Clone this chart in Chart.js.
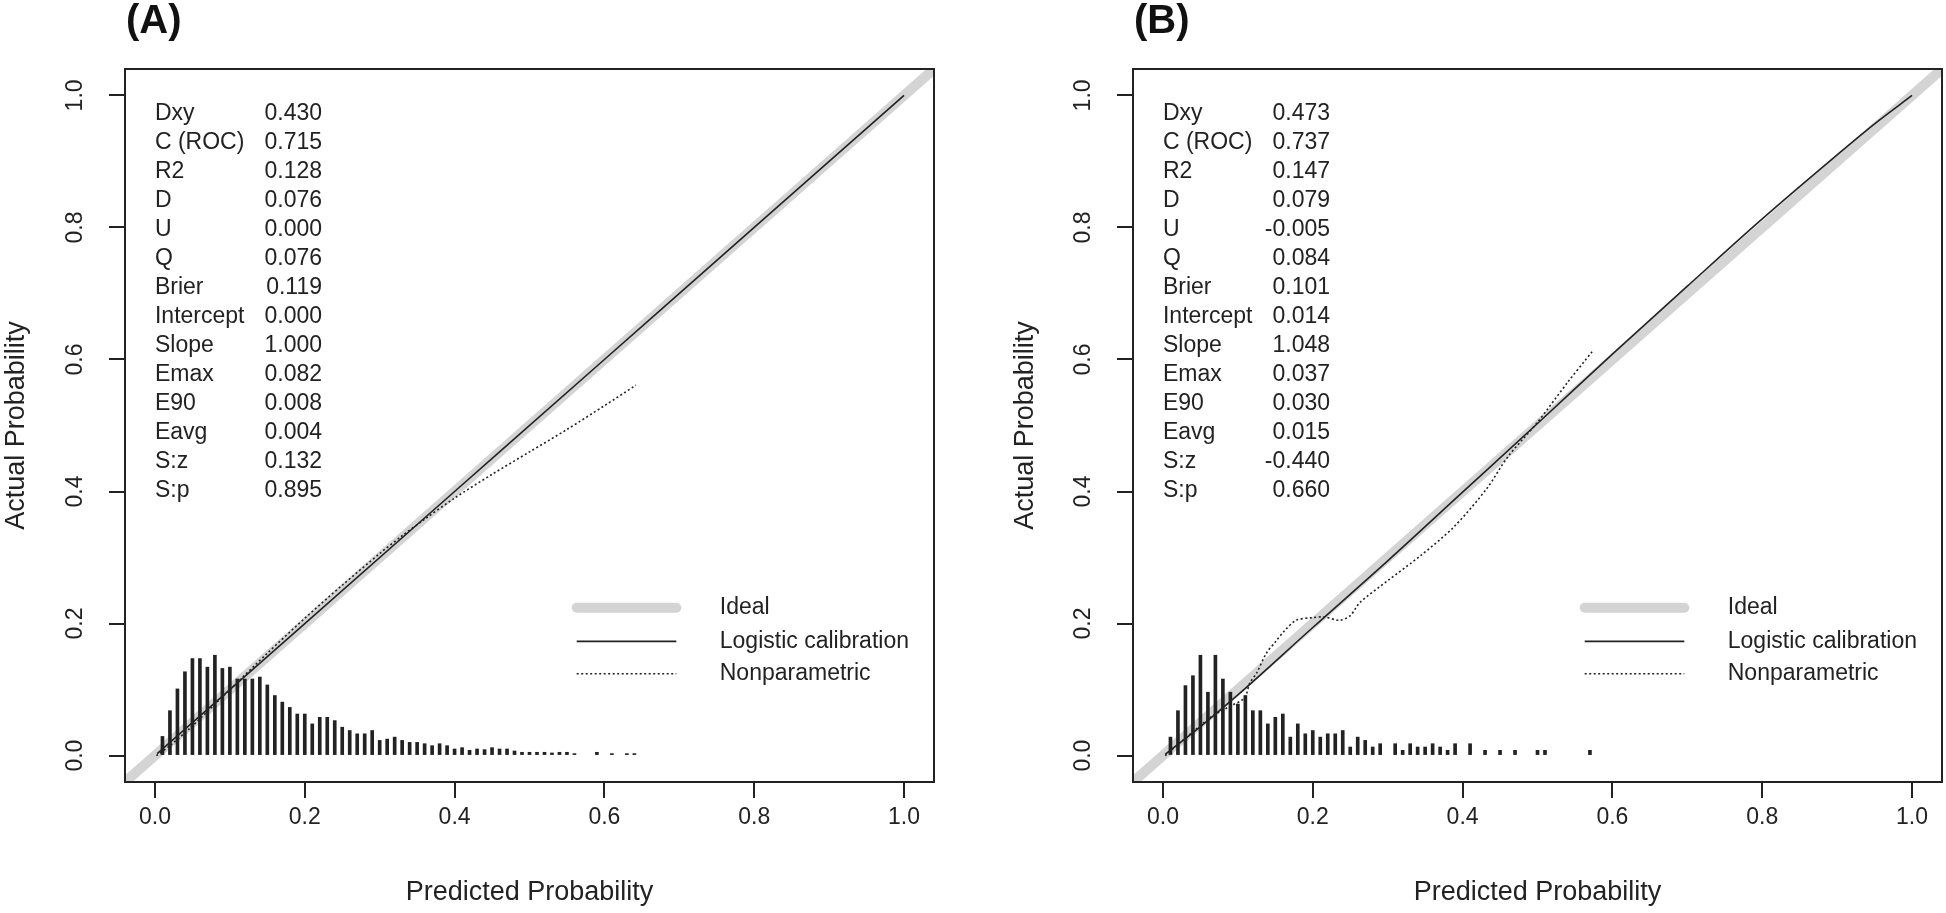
<!DOCTYPE html>
<html>
<head>
<meta charset="utf-8">
<script src="https://cdn.jsdelivr.net/npm/chart.js@4.4.1/dist/chart.umd.min.js"></script>
<style>
  html, body { margin: 0; padding: 0; background: #fff; }
  #wrap { position: relative; width: 1946px; height: 913px; overflow: hidden; }
  canvas { position: absolute; top: 0; }
  #chartA { left: 0; }
  #chartB { left: 973px; }
</style>
</head>
<body>
<div id="wrap">
  <canvas id="chartA" width="973" height="913"></canvas>
  <canvas id="chartB" width="973" height="913"></canvas>
</div>
<script>
// --- data ---
const axisTicks = [0, 0.2, 0.4, 0.6, 0.8, 1.0];
const axisRange = [-0.04, 1.04];

const statNames = ['Dxy', 'C (ROC)', 'R2', 'D', 'U', 'Q', 'Brier', 'Intercept', 'Slope', 'Emax', 'E90', 'Eavg', 'S:z', 'S:p'];
const statsA = ['0.430', '0.715', '0.128', '0.076', '0.000', '0.076', '0.119', '0.000', '1.000', '0.082', '0.008', '0.004', '0.132', '0.895'];
const statsB = ['0.473', '0.737', '0.147', '0.079', '-0.005', '0.084', '0.101', '0.014', '1.048', '0.037', '0.030', '0.015', '-0.440', '0.660'];

const legendLabels = ['Ideal', 'Logistic calibration', 'Nonparametric'];

const idealX = [-0.04, 1.04];
const idealY = [-0.04, 1.04];

// panel A
const logisticXA = [0.003, 0.2, 0.4, 0.6, 0.8, 1.0];
const logisticYA = [0.003, 0.2, 0.4, 0.6, 0.8, 1.0];
const nonparXA = [0.002, 0.02, 0.05, 0.1, 0.15, 0.2, 0.25, 0.3, 0.33, 0.36, 0.4, 0.45, 0.5, 0.55, 0.6, 0.642];
const nonparYA = [0.0, 0.015, 0.045, 0.1, 0.155, 0.208, 0.258, 0.306, 0.333, 0.358, 0.39, 0.426, 0.46, 0.494, 0.53, 0.561];
const histXA = [0.01, 0.02, 0.03, 0.04, 0.05, 0.06, 0.07, 0.08, 0.09, 0.10,
  0.11, 0.12, 0.13, 0.14, 0.15, 0.16, 0.17, 0.18, 0.19, 0.20,
  0.21, 0.22, 0.23, 0.24, 0.25, 0.26, 0.27, 0.28, 0.29, 0.30,
  0.31, 0.32, 0.33, 0.34, 0.35, 0.36, 0.37, 0.38, 0.39, 0.40,
  0.41, 0.42, 0.43, 0.44, 0.45, 0.46, 0.47, 0.48, 0.49, 0.50,
  0.51, 0.52, 0.53, 0.54, 0.55, 0.56, 0.59, 0.61, 0.63, 0.64];
const histYA = [0.029, 0.068, 0.101, 0.127, 0.147, 0.147, 0.134, 0.152, 0.132, 0.134,
  0.116, 0.116, 0.116, 0.119, 0.107, 0.091, 0.081, 0.073, 0.063, 0.063,
  0.048, 0.058, 0.058, 0.053, 0.043, 0.038, 0.033, 0.033, 0.038, 0.023,
  0.025, 0.028, 0.023, 0.020, 0.020, 0.018, 0.015, 0.018, 0.015, 0.010,
  0.012, 0.008, 0.010, 0.009, 0.012, 0.010, 0.010, 0.007, 0.005, 0.005,
  0.005, 0.005, 0.004, 0.005, 0.005, 0.003, 0.005, 0.003, 0.003, 0.003];

// panel B
const logisticXB = [0.003, 0.05, 0.1, 0.2, 0.3, 0.4, 0.5, 0.6, 0.7, 0.8, 0.9, 0.95, 1.0];
const logisticYB = [0.002, 0.044, 0.092, 0.194, 0.295, 0.399, 0.503, 0.608, 0.711, 0.813, 0.91, 0.957, 1.0];
const nonparXB = [0.003, 0.02, 0.04, 0.06, 0.075, 0.092, 0.109, 0.116, 0.125, 0.138, 0.15, 0.163, 0.178, 0.2, 0.215,
  0.236, 0.25, 0.263, 0.3, 0.343, 0.388, 0.432, 0.46, 0.5, 0.54, 0.573];
const nonparYB = [0.0, 0.017, 0.036, 0.055, 0.066, 0.076, 0.0875, 0.11, 0.125, 0.155, 0.172, 0.19, 0.205, 0.209, 0.21,
  0.205, 0.212, 0.232, 0.265, 0.302, 0.346, 0.404, 0.452, 0.505, 0.565, 0.612];
const histXB = [0.01, 0.02, 0.03, 0.04, 0.05, 0.06, 0.07, 0.08, 0.09, 0.10,
  0.11, 0.12, 0.13, 0.14, 0.15, 0.16, 0.17, 0.18, 0.19, 0.20,
  0.21, 0.22, 0.23, 0.24, 0.25, 0.26, 0.27, 0.28, 0.29,
  0.31, 0.32, 0.33, 0.34, 0.35, 0.36, 0.37, 0.38, 0.39,
  0.41, 0.43, 0.45, 0.47, 0.50, 0.51, 0.57];
const histYB = [0.028, 0.068, 0.106, 0.121, 0.152, 0.096, 0.152, 0.116, 0.096, 0.078,
  0.091, 0.068, 0.068, 0.048, 0.058, 0.063, 0.028, 0.048, 0.033, 0.038,
  0.028, 0.033, 0.033, 0.038, 0.013, 0.028, 0.023, 0.013, 0.018,
  0.018, 0.008, 0.018, 0.013, 0.013, 0.018, 0.013, 0.008, 0.018,
  0.018, 0.008, 0.008, 0.008, 0.008, 0.008, 0.008];

// --- look ---
const FONT = "'Liberation Sans', Arial, sans-serif";
const INK = '#222';
const IDEAL_GRAY = '#d4d4d4';
const TEXT_SIZE = 23;
const AXIS_TITLE_SIZE = 27;

// text placement, in data units
const STAT_TOP = 0.972;
const STAT_STEP = 0.0439;
const STAT_VALUE_X = 0.223;
const LEGEND_LINE_X = [0.563, 0.696];
const LEGEND_TEXT_X = 0.754;
const LEGEND_ROWS_Y = [0.224, 0.173, 0.124];

const pairs = (xs, ys) => xs.map((x, i) => ({ x, y: ys[i] }));

const legendStyles = [
    { color: IDEAL_GRAY, width: 10, dash: [], cap: 'round' },
    { color: INK, width: 1.6, dash: [], cap: 'butt' },
    { color: INK, width: 1.6, dash: [2, 2.5], cap: 'butt' }
];

const panelDecor = {
    id: 'panelDecor',
    afterDraw(chart, args, opts) {
        const { ctx, chartArea: a } = chart;
        const x = chart.scales.x;
        const y = chart.scales.y;
        ctx.save();

        // frame round the plot region
        ctx.strokeStyle = INK;
        ctx.lineWidth = 2;
        ctx.strokeRect(a.left, a.top, a.right - a.left, a.bottom - a.top);

        // panel letter
        ctx.fillStyle = '#111';
        ctx.font = 'bold 40px ' + FONT;
        ctx.textAlign = 'left';
        ctx.textBaseline = 'middle';
        ctx.fillText(opts.letter, a.left + 1, 22);

        // statistics block
        ctx.fillStyle = INK;
        ctx.font = TEXT_SIZE + 'px ' + FONT;
        statNames.forEach((name, i) => {
            const py = y.getPixelForValue(STAT_TOP - i * STAT_STEP);
            ctx.textAlign = 'left';
            ctx.fillText(name, x.getPixelForValue(0), py);
            ctx.textAlign = 'right';
            ctx.fillText(opts.stats[i], x.getPixelForValue(STAT_VALUE_X), py);
        });

        // legend
        legendLabels.forEach((label, i) => {
            const st = legendStyles[i];
            const py = y.getPixelForValue(LEGEND_ROWS_Y[i]);
            ctx.beginPath();
            ctx.strokeStyle = st.color;
            ctx.lineWidth = st.width;
            ctx.lineCap = st.cap;
            ctx.setLineDash(st.dash);
            ctx.moveTo(x.getPixelForValue(LEGEND_LINE_X[0]), py);
            ctx.lineTo(x.getPixelForValue(LEGEND_LINE_X[1]), py);
            ctx.stroke();
            ctx.setLineDash([]);
            ctx.fillStyle = INK;
            ctx.textAlign = 'left';
            ctx.fillText(label, x.getPixelForValue(LEGEND_TEXT_X), py);
        });
        ctx.restore();
    }
};

function fixedTicks(scale) {
    scale.ticks = axisTicks.map(v => ({ value: v }));
}

function buildChart(canvas, panel) {
    const tickFont = { family: FONT, size: TEXT_SIZE };
    const titleFont = { family: FONT, size: AXIS_TITLE_SIZE };
    return new Chart(canvas, {
        type: 'line',
        data: {
            datasets: [
                {
                    label: 'Nonparametric',
                    data: pairs(panel.nonparX, panel.nonparY),
                    borderColor: INK, borderWidth: 1.6, borderDash: [2, 2.5],
                    pointRadius: 0, tension: 0.3, order: 1
                },
                {
                    label: 'Logistic calibration',
                    data: pairs(panel.logisticX, panel.logisticY),
                    borderColor: INK, borderWidth: 1.6,
                    pointRadius: 0, cubicInterpolationMode: 'monotone', order: 2
                },
                {
                    type: 'bar',
                    label: 'Predicted risk',
                    data: pairs(panel.histX, panel.histY),
                    backgroundColor: INK, barThickness: 3, order: 3
                },
                {
                    label: 'Ideal',
                    data: pairs(idealX, idealY),
                    borderColor: IDEAL_GRAY, borderWidth: 10,
                    pointRadius: 0, order: 4
                }
            ]
        },
        options: {
            responsive: false,
            animation: false,
            events: [],
            layout: { padding: { left: panel.padLeft, right: panel.padRight, top: 69, bottom: 0 } },
            plugins: {
                legend: { display: false },
                tooltip: { enabled: false },
                panelDecor: { letter: panel.letter, stats: panel.stats }
            },
            scales: {
                x: {
                    type: 'linear',
                    min: axisRange[0], max: axisRange[1],
                    offset: false,
                    afterBuildTicks: fixedTicks,
                    afterFit: s => { s.height = 131; },
                    border: { display: false },
                    grid: { drawOnChartArea: false, offset: false, tickLength: 16, color: INK, lineWidth: 2 },
                    ticks: { font: tickFont, color: INK, padding: 6, maxRotation: 0, callback: v => v.toFixed(1) },
                    title: { display: true, text: 'Predicted Probability', font: titleFont, color: INK, padding: { top: 0, bottom: 4 } }
                },
                y: {
                    type: 'linear',
                    min: axisRange[0], max: axisRange[1],
                    afterBuildTicks: fixedTicks,
                    afterFit: s => { s.width = panel.yWidth; },
                    border: { display: false },
                    grid: { drawOnChartArea: false, tickLength: 16, color: INK, lineWidth: 2 },
                    ticks: {
                        font: tickFont, color: INK, padding: 17,
                        minRotation: 90, maxRotation: 90, crossAlign: 'center',
                        callback: v => v.toFixed(1)
                    },
                    title: { display: true, text: 'Actual Probability', font: titleFont, color: INK, padding: { top: 0, bottom: 0 } }
                }
            }
        },
        plugins: [panelDecor]
    });
}

buildChart(document.getElementById('chartA'), {
    letter: '(A)', stats: statsA,
    logisticX: logisticXA, logisticY: logisticYA,
    nonparX: nonparXA, nonparY: nonparYA,
    histX: histXA, histY: histYA,
    padLeft: 0, yWidth: 125, padRight: 39
});

buildChart(document.getElementById('chartB'), {
    letter: '(B)', stats: statsB,
    logisticX: logisticXB, logisticY: logisticYB,
    nonparX: nonparXB, nonparY: nonparYB,
    histX: histXB, histY: histYB,
    padLeft: 36, yWidth: 124, padRight: 4
});
</script>
</body>
</html>
